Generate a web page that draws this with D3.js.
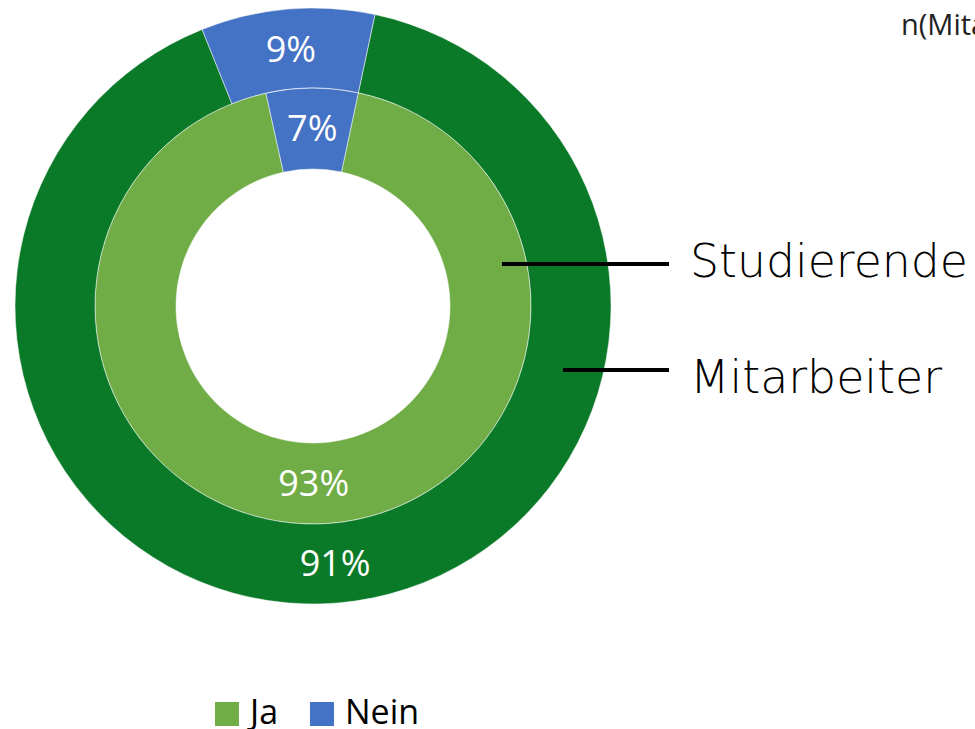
<!DOCTYPE html>
<html><head><meta charset="utf-8">
<script src="https://cdn.jsdelivr.net/npm/d3@7"></script>
<style>html,body{margin:0;padding:0;background:#fff;overflow:hidden}</style>
</head><body>
<svg id="chart" width="975" height="729"></svg>
<script>
const categories = ["Ja", "Nein"];
const rings = ["Studierende", "Mitarbeiter"];
// shares (labels show rounded values)
const studierende = [93.2, 6.8];
const mitarbeiter = [90.6, 9.4];
const legendColors = ["#70ad47", "#4472c4"];

const svg = d3.select("#chart");
const cx = 313, cy = 306;
const startDeg = 12;
const pie = d3.pie().sort(null).value(d => d)
  .startAngle(startDeg * Math.PI / 180)
  .endAngle((startDeg + 360) * Math.PI / 180);

const ringDefs = [
  {name: "Studierende", values: studierende, inner: 137, outer: 218, colors: ["#70ad47", "#4472c4"]},
  {name: "Mitarbeiter", values: mitarbeiter, inner: 218, outer: 298, colors: ["#0b7a28", "#4472c4"]}
];

const g = svg.append("g").attr("transform", `translate(${cx},${cy})`);
ringDefs.forEach(r => {
  const arc = d3.arc().innerRadius(r.inner).outerRadius(r.outer);
  const arcs = pie(r.values);
  g.selectAll(null).data(arcs).enter().append("path")
    .attr("d", arc)
    .attr("fill", (d, i) => r.colors[i])
    .attr("stroke", "#fff").attr("stroke-width", 0.5);
  g.selectAll(null).data(arcs).enter().append("text")
    .attr("transform", d => `translate(${arc.centroid(d)})`)
    .attr("text-anchor", "middle").attr("dy", "0.36em")
    .attr("fill", "#fff")
    .style("font-family", "'Open Sans', sans-serif")
    .style("font-size", "36px")
    .text(d => Math.round(d.data) + "%");
});

// ring labels with leader lines
const labelDefs = [
  {text: rings[0], x1: 502, y: 264, ty: 277, len: 278},
  {text: rings[1], x1: 563, y: 370, ty: 393, len: 252}
];
labelDefs.forEach(l => {
  svg.append("line").attr("x1", l.x1).attr("x2", 669).attr("y1", l.y).attr("y2", l.y)
    .attr("stroke", "#000").attr("stroke-width", 4);
  svg.append("text").attr("x", 690).attr("y", l.ty)
    .style("font-family", "'DejaVu Sans', sans-serif")
    .style("font-size", "46px").style("font-weight", "300")
    .attr("fill", "#000")
    .attr("textLength", l.len)
    .attr("lengthAdjust", "spacingAndGlyphs")
    .text(l.text);
});

// top right note (cut at the right edge as in the reference)
svg.append("text").attr("x", 901).attr("y", 35)
  .style("font-family", "'Open Sans', sans-serif").style("font-size", "29px")
  .attr("fill", "#222").text("n(Mitarbeiter)");

// legend
const legend = svg.append("g");
const lx = [215, 310];
categories.forEach((c, i) => {
  legend.append("rect").attr("x", lx[i]).attr("y", 702).attr("width", 24).attr("height", 24)
    .attr("fill", legendColors[i]);
  legend.append("text").attr("x", lx[i] + 35).attr("y", 724)
    .style("font-family", "'Open Sans', sans-serif").style("font-size", "34px")
    .attr("fill", "#000").text(c);
});
</script>
</body></html>
